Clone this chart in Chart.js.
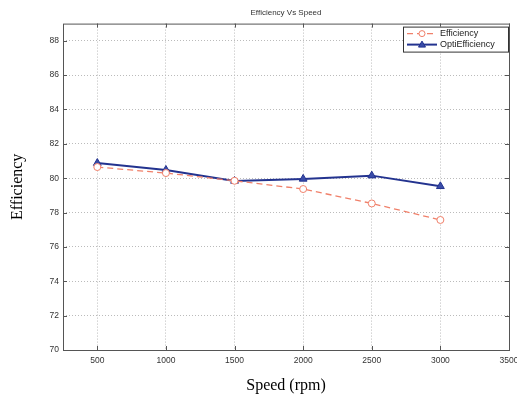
<!DOCTYPE html>
<html>
<head>
<meta charset="utf-8">
<script src="https://cdn.jsdelivr.net/npm/chart.js@4/dist/chart.umd.min.js"></script>
<style>
  html, body { margin: 0; padding: 0; background: #fff; }
  #wrap { width: 517px; height: 401px; }
</style>
</head>
<body>
<div id="wrap"><canvas id="effChart" width="517" height="401"></canvas></div>
<script>
const speeds = [500, 1000, 1500, 2000, 2500, 3000];
const efficiency = [80.65, 80.3, 79.85, 79.37, 78.53, 77.57];
const optiEfficiency = [80.88, 80.48, 79.84, 79.96, 80.15, 79.53];
const xTicks = [500, 1000, 1500, 2000, 2500, 3000, 3500];
const yTicks = [70, 72, 74, 76, 78, 80, 82, 84, 86, 88];

const toPoints = (values) => speeds.map((s, i) => ({ x: s, y: values[i] }));

// box round the plot plus short inward ticks, like the matlab figure
const axesBox = {
    id: 'axesBox',
    afterDraw(chart) {
        const { ctx, chartArea: a, scales } = chart;
        ctx.save();
        ctx.strokeStyle = '#555';
        ctx.lineWidth = 1;
        ctx.strokeRect(a.left + 0.5, a.top + 0.5, a.right - a.left, a.bottom - a.top);
        ctx.beginPath();
        xTicks.forEach(v => {
            const px = Math.round(scales.x.getPixelForValue(v)) + 0.5;
            ctx.moveTo(px, a.bottom); ctx.lineTo(px, a.bottom - 4);
            ctx.moveTo(px, a.top); ctx.lineTo(px, a.top + 4);
        });
        yTicks.forEach(v => {
            const py = Math.round(scales.y.getPixelForValue(v)) + 0.5;
            ctx.moveTo(a.left, py); ctx.lineTo(a.left + 4, py);
            ctx.moveTo(a.right, py); ctx.lineTo(a.right - 4, py);
        });
        ctx.stroke();
        ctx.restore();
    }
};

// legend box in the upper right corner of the plot
const insideLegend = {
    id: 'insideLegend',
    afterDraw(chart) {
        const { ctx, chartArea: a } = chart;
        const w = 105, h = 25;
        const x0 = a.right - w - 1, y0 = a.top + 3;
        ctx.save();
        ctx.fillStyle = '#fff';
        ctx.fillRect(x0, y0, w, h);
        ctx.strokeStyle = '#333';
        ctx.lineWidth = 1;
        ctx.strokeRect(x0 + 0.5, y0 + 0.5, w, h);
        ctx.font = '9px Arial, "Liberation Sans", sans-serif';
        ctx.textBaseline = 'middle';
        chart.data.datasets.forEach((ds, i) => {
            const yy = y0 + 7 + i * 11;
            ctx.beginPath();
            ctx.strokeStyle = ds.borderColor;
            ctx.lineWidth = ds.borderWidth;
            ctx.setLineDash(ds.borderDash || []);
            ctx.moveTo(x0 + 4, yy);
            ctx.lineTo(x0 + 34, yy);
            ctx.stroke();
            ctx.setLineDash([]);
            ctx.lineWidth = 1;
            ctx.beginPath();
            if (ds.pointStyle === 'triangle') {
                ctx.moveTo(x0 + 19, yy - 3.5);
                ctx.lineTo(x0 + 22.5, yy + 2.5);
                ctx.lineTo(x0 + 15.5, yy + 2.5);
                ctx.closePath();
                ctx.fillStyle = ds.pointBackgroundColor;
                ctx.fill();
                ctx.stroke();
            } else {
                ctx.fillStyle = '#fff';
                ctx.arc(x0 + 19, yy, 3, 0, Math.PI * 2);
                ctx.fill();
                ctx.stroke();
            }
            ctx.fillStyle = '#222';
            ctx.fillText(ds.label, x0 + 37, yy);
        });
        ctx.restore();
    }
};

new Chart(document.getElementById('effChart'), {
    type: 'line',
    data: {
        datasets: [
            {
                label: 'Efficiency',
                data: toPoints(efficiency),
                borderColor: '#f0806a',
                borderWidth: 1.3,
                borderDash: [6, 4],
                pointStyle: 'circle',
                pointRadius: 3.5,
                pointBorderColor: '#f0806a',
                pointBackgroundColor: '#fff',
                pointBorderWidth: 1,
                tension: 0
            },
            {
                label: 'OptiEfficiency',
                data: toPoints(optiEfficiency),
                borderColor: '#23338f',
                borderWidth: 2,
                pointStyle: 'triangle',
                pointRadius: 4.5,
                pointBorderColor: '#23338f',
                pointBackgroundColor: '#3a4ca8',
                pointBorderWidth: 1,
                tension: 0
            }
        ]
    },
    options: {
        responsive: false,
        animation: false,
        layout: { padding: { top: 0, right: 8, bottom: 0, left: 0 } },
        plugins: {
            legend: { display: false },
            tooltip: { enabled: false },
            title: {
                display: true,
                text: 'Efficiency Vs Speed',
                fullSize: false,
                color: '#333',
                font: { family: 'Arial, "Liberation Sans", sans-serif', size: 8, weight: 'normal' },
                padding: { top: 8, bottom: 6 }
            }
        },
        scales: {
            x: {
                type: 'linear',
                min: 250,
                max: 3500,
                afterBuildTicks: (axis) => { axis.ticks = xTicks.map(v => ({ value: v })); },
                afterFit: (axis) => {
                    axis.height = 51;
                    axis.paddingLeft = 0;
                    axis.paddingRight = 0;
                },
                grid: { color: '#bbb', borderDash: [1, 2], drawTicks: false },
                border: { display: false, dash: [1, 2] },
                ticks: {
                    color: '#333',
                    padding: 6,
                    maxRotation: 0,
                    callback: (v) => String(v),
                    font: { family: 'Arial, "Liberation Sans", sans-serif', size: 8.5 }
                },
                title: {
                    display: true,
                    text: 'Speed (rpm)',
                    color: '#000',
                    font: { family: '"Liberation Serif", "Times New Roman", serif', size: 16 },
                    padding: { top: 6, bottom: 6 }
                }
            },
            y: {
                min: 70,
                max: 89,
                afterBuildTicks: (axis) => { axis.ticks = yTicks.map(v => ({ value: v })); },
                afterFit: (axis) => { axis.width = 63; },
                grid: { color: '#bbb', borderDash: [1, 2], drawTicks: false },
                border: { display: false, dash: [1, 2] },
                ticks: {
                    color: '#333',
                    padding: 4,
                    font: { family: 'Arial, "Liberation Sans", sans-serif', size: 8.5 }
                },
                title: {
                    display: true,
                    text: 'Efficiency',
                    color: '#000',
                    font: { family: '"Liberation Serif", "Times New Roman", serif', size: 16 },
                    padding: { top: 8, bottom: 8 }
                }
            }
        }
    },
    plugins: [axesBox, insideLegend]
});
</script>
</body>
</html>
